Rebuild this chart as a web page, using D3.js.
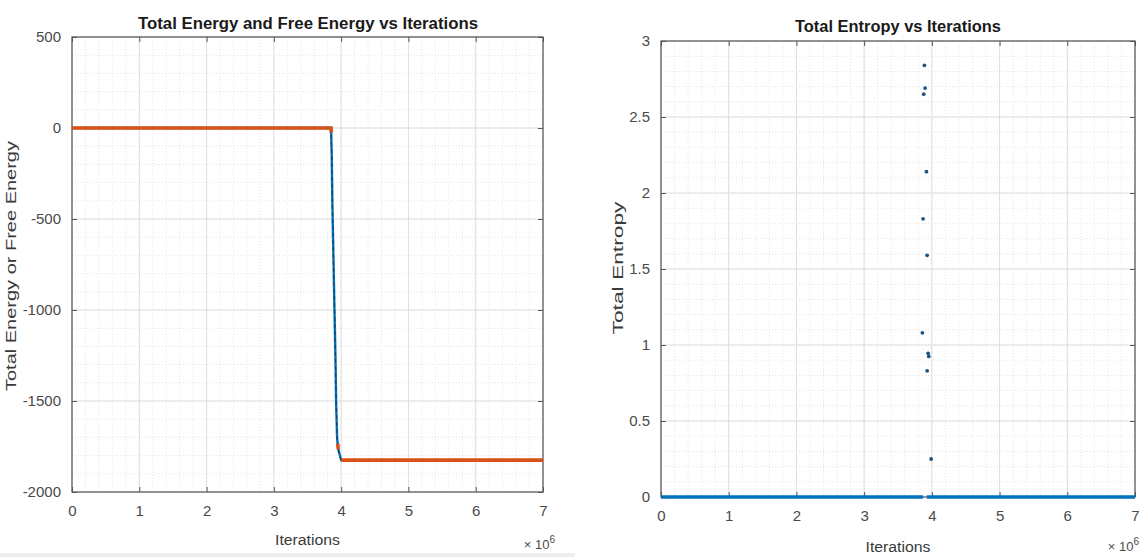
<!DOCTYPE html>
<html lang="en">
<head>
<meta charset="UTF-8">
<title>Energy and Entropy vs Iterations</title>
<script src="https://d3js.org/d3.v7.min.js"></script>
<style>
    body { margin: 0; background: #fff; }
    svg { display: block; font-family: 'Liberation Sans', Arial, sans-serif; }
    .tick-label { fill: #4a4a4a; font-size: 15px; }
    .axis-label { fill: #3a3a3a; font-size: 14px; }
    .title { fill: #1a1a1a; font-size: 16px; font-weight: bold; }
</style>
</head>
<body>
<svg id="chart" width="1141" height="557"></svg>
<script>
    // iterations are in units of 1e6
    const iterTicks = [0, 1, 2, 3, 4, 5, 6, 7];
    const energyTicks = [-2000, -1500, -1000, -500, 0, 500];
    const entropyTicks = [0, 0.5, 1, 1.5, 2, 2.5, 3];

    // Total Energy (blue)
    const totalEnergyIter = [0, 3.85, 3.86, 3.87, 3.885, 3.90, 3.915, 3.925, 3.94, 3.95, 3.96, 4.0, 7];
    const totalEnergyVal  = [0, 0, -150, -420, -700, -980, -1250, -1500, -1700, -1745, -1770, -1825, -1825];

    // Free Energy (orange), NaN = gap between plotted points
    const freeEnergyIter = [0, 3.85, 3.853, NaN, 3.95, 3.957, NaN, 4.0, 7];
    const freeEnergyVal  = [0, 0, -25, NaN, -1735, -1765, NaN, -1825, -1825];

    // Total Entropy: points sitting on zero, and the scattered spike points
    const entropyBaseIter = [0, 3.87, NaN, 3.925, 7];
    const entropyBaseVal  = [0, 0, NaN, 0, 0];
    const entropySpikeIter = [3.89, 3.90, 3.88, 3.92, 3.87, 3.93, 3.86, 3.945, 3.955, 3.93, 3.99];
    const entropySpikeVal  = [2.84, 2.69, 2.65, 2.14, 1.83, 1.59, 1.08, 0.945, 0.925, 0.83, 0.25];

    const blue = "#0072BD";
    const orange = "#D95319";

    const svg = d3.select("#chart");

    // light strip along the bottom of the left half
    svg.append("rect").attr("x", 0).attr("y", 553).attr("width", 575).attr("height", 4).attr("fill", "#ededed");

    function zip(xs, ys) {
        return xs.map((x, i) => ({ x: x, y: ys[i] }));
    }

    function drawAxes(cfg) {
        const g = svg.append("g");
        const x = d3.scaleLinear().domain([0, 7]).range([cfg.left, cfg.right]);
        const y = d3.scaleLinear().domain(cfg.yDomain).range([cfg.bottom, cfg.top]);

        // minor grid
        const xMinor = d3.range(0, 7.0001, 0.2);
        const yMinor = d3.range(cfg.yDomain[0], cfg.yDomain[1] + cfg.yMinor / 2, cfg.yMinor);
        g.selectAll(".xminor").data(xMinor).enter().append("line")
            .attr("x1", d => x(d)).attr("x2", d => x(d))
            .attr("y1", cfg.top).attr("y2", cfg.bottom)
            .attr("stroke", "#e4e4e4").attr("stroke-dasharray", "1,2");
        g.selectAll(".yminor").data(yMinor).enter().append("line")
            .attr("x1", cfg.left).attr("x2", cfg.right)
            .attr("y1", d => y(d)).attr("y2", d => y(d))
            .attr("stroke", "#e4e4e4").attr("stroke-dasharray", "1,2");

        // major grid
        g.selectAll(".xmajor").data(iterTicks).enter().append("line")
            .attr("x1", d => x(d)).attr("x2", d => x(d))
            .attr("y1", cfg.top).attr("y2", cfg.bottom)
            .attr("stroke", "#dedede");
        g.selectAll(".ymajor").data(cfg.yTicks).enter().append("line")
            .attr("x1", cfg.left).attr("x2", cfg.right)
            .attr("y1", d => y(d)).attr("y2", d => y(d))
            .attr("stroke", "#dedede");

        // axes (ticks pointing inward, mirrored on top/right)
        g.append("g").attr("transform", `translate(0,${cfg.bottom})`)
            .call(d3.axisBottom(x).tickValues(iterTicks).tickSize(-5).tickPadding(13).tickFormat(d => String(d)))
            .call(a => a.select(".domain").remove());
        g.append("g").attr("transform", `translate(0,${cfg.top})`)
            .call(d3.axisTop(x).tickValues(iterTicks).tickSize(-5).tickFormat(""))
            .call(a => a.select(".domain").remove());
        g.append("g").attr("transform", `translate(${cfg.left},0)`)
            .call(d3.axisLeft(y).tickValues(cfg.yTicks).tickSize(-5).tickPadding(11).tickFormat(d => String(d)))
            .call(a => a.select(".domain").remove());
        g.append("g").attr("transform", `translate(${cfg.right},0)`)
            .call(d3.axisRight(y).tickValues(cfg.yTicks).tickSize(-5).tickFormat(""))
            .call(a => a.select(".domain").remove());

        g.selectAll(".tick line").attr("stroke", "#555");
        g.selectAll(".tick text").attr("class", "tick-label").attr("fill", null)
            .attr("font-family", null).attr("font-size", null);

        g.append("rect")
            .attr("x", cfg.left).attr("y", cfg.top)
            .attr("width", cfg.right - cfg.left).attr("height", cfg.bottom - cfg.top)
            .attr("fill", "none").attr("stroke", "#555").attr("stroke-width", 1.2);

        // title and labels
        g.append("text").attr("class", "title")
            .attr("x", cfg.titleX).attr("y", cfg.titleY).attr("text-anchor", "middle")
            .attr("textLength", cfg.titleLen).attr("lengthAdjust", "spacingAndGlyphs")
            .text(cfg.title);
        g.append("text").attr("class", "axis-label")
            .attr("x", (cfg.left + cfg.right) / 2).attr("y", cfg.xLabelY).attr("text-anchor", "middle")
            .attr("textLength", 65).attr("lengthAdjust", "spacingAndGlyphs")
            .text("Iterations");
        const ex = g.append("text").attr("class", "tick-label")
            .attr("x", Math.min(cfg.right + 12, 1139)).attr("y", cfg.expY).attr("text-anchor", "end")
            .style("font-size", "13px");
        ex.append("tspan").text("\u00d7 10");
        ex.append("tspan").attr("dy", -6).style("font-size", "10px").text("6");
        g.append("text").attr("class", "axis-label")
            .attr("transform", `translate(${cfg.yLabelX},${cfg.yLabelY}) rotate(-90)`)
            .attr("text-anchor", "middle")
            .attr("textLength", cfg.yLabelLen).attr("lengthAdjust", "spacingAndGlyphs")
            .text(cfg.yLabel);

        return { x, y };
    }

    // ---------- left panel ----------
    const left = drawAxes({
        left: 72, right: 543, top: 37, bottom: 492,
        yDomain: [-2000, 500], yTicks: energyTicks, yMinor: 100,
        title: "Total Energy and Free Energy vs Iterations", titleX: 308, titleY: 29, titleLen: 340,
        xLabelY: 545, expY: 549,
        yLabel: "Total Energy or Free Energy", yLabelX: 16, yLabelY: 266, yLabelLen: 250
    });

    const lineL = d3.line().defined(d => !isNaN(d.y)).x(d => left.x(d.x)).y(d => left.y(d.y));

    svg.append("path").datum(zip(totalEnergyIter, totalEnergyVal))
        .attr("d", lineL).attr("fill", "none")
        .attr("stroke", blue).attr("stroke-width", 2.4);
    svg.append("path").datum(zip(totalEnergyIter, totalEnergyVal))
        .attr("d", lineL).attr("fill", "none")
        .attr("stroke", "#1c3f5e").attr("stroke-width", 1.2).attr("stroke-dasharray", "4,3");
    svg.append("path").datum(zip(freeEnergyIter, freeEnergyVal))
        .attr("d", lineL).attr("fill", "none")
        .attr("stroke", orange).attr("stroke-width", 3.6);

    // ---------- right panel ----------
    const right = drawAxes({
        left: 661, right: 1135, top: 41, bottom: 497,
        yDomain: [0, 3], yTicks: entropyTicks, yMinor: 0.1,
        title: "Total Entropy vs Iterations", titleX: 898, titleY: 32, titleLen: 206,
        xLabelY: 552, expY: 551,
        yLabel: "Total Entropy", yLabelX: 623, yLabelY: 268, yLabelLen: 133
    });

    const lineR = d3.line().defined(d => !isNaN(d.y)).x(d => right.x(d.x)).y(d => right.y(d.y));

    svg.append("path").datum(zip(entropyBaseIter, entropyBaseVal))
        .attr("d", lineR).attr("fill", "none")
        .attr("stroke", blue).attr("stroke-width", 3.6);

    svg.selectAll(".spike").data(zip(entropySpikeIter, entropySpikeVal)).enter().append("circle")
        .attr("cx", d => right.x(d.x)).attr("cy", d => right.y(d.y))
        .attr("r", 1.9).attr("fill", "#1f5582");
</script>
</body>
</html>
